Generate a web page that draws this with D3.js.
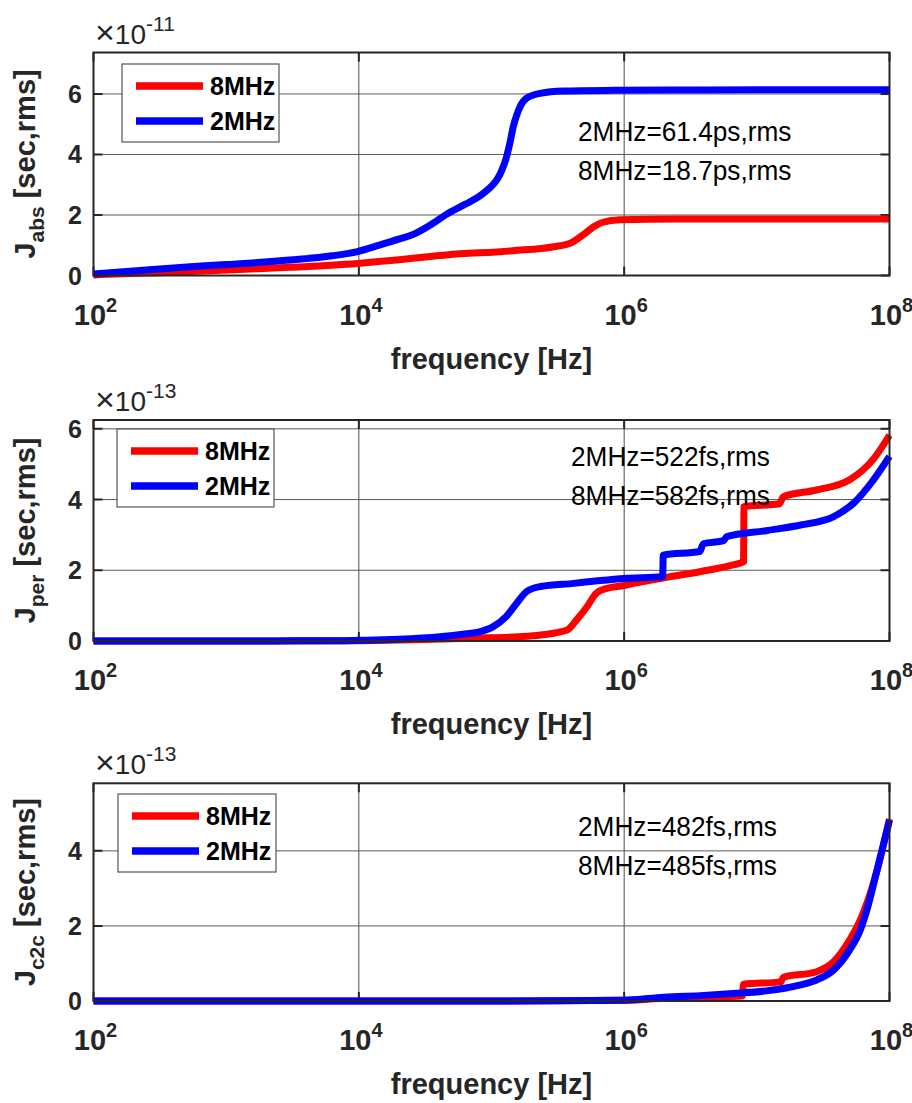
<!DOCTYPE html>
<html>
<head>
<meta charset="utf-8">
<script src="https://cdn.jsdelivr.net/npm/d3@7"></script>
<style>
  body { margin: 0; background: #fff; }
  svg { display: block; }
  text { font-family: "Liberation Sans", Arial, Helvetica, sans-serif; }
</style>
</head>
<body>
<svg id="fig" width="912" height="1103"></svg>
<script>
// Frequency axis: decades shown as ticks (exponents of 10)
const decades = [2, 4, 6, 8];
const seriesNames = ["8MHz", "2MHz"];

// Integrated absolute jitter, J_abs (units of 1e-11 s); frequencies as log10(Hz)
const absF8 = [2, 2.4, 2.73, 3.1, 3.48, 3.99, 4.2, 4.66, 5.16, 5.47, 5.6, 5.69, 5.77, 5.84, 5.97, 6.4, 7, 8];
const absJ8 = [0.02, 0.08, 0.13, 0.2, 0.27, 0.40, 0.48, 0.68, 0.82, 0.95, 1.08, 1.34, 1.61, 1.76, 1.84, 1.87, 1.87, 1.87];
const absF2 = [2, 2.3, 2.73, 3.0, 3.48, 3.8, 3.99, 4.16, 4.3, 4.41, 4.55, 4.66, 4.8, 4.91, 5.0, 5.04, 5.08, 5.114, 5.14, 5.164, 5.19, 5.215, 5.265, 5.365, 5.54, 5.92, 6.5, 7.3, 8];
const absJ2 = [0.05, 0.15, 0.29, 0.36, 0.51, 0.65, 0.79, 1.01, 1.2, 1.36, 1.7, 2.02, 2.35, 2.62, 2.95, 3.16, 3.5, 3.93, 4.4, 4.92, 5.3, 5.58, 5.86, 6.02, 6.10, 6.12, 6.13, 6.14, 6.14];
const absYTicks = [0, 2, 4, 6];
const absNotes = ["2MHz=61.4ps,rms", "8MHz=18.7ps,rms"];

// Integrated period jitter, J_per (units of 1e-13 s)
const perF8 = [2, 3.5, 4.0, 4.5, 4.86, 5.2, 5.37, 5.57, 5.64, 5.72, 5.79, 5.87, 6.0, 6.07, 6.32, 6.57, 6.82, 6.9, 6.903, 7.17, 7.2, 7.45, 7.7, 7.88, 8];
const perJ8 = [0, 0, 0.01, 0.04, 0.08, 0.12, 0.17, 0.31, 0.59, 0.97, 1.35, 1.49, 1.57, 1.63, 1.8, 1.96, 2.15, 2.24, 3.8, 3.88, 4.08, 4.27, 4.56, 5.15, 5.82];
const perF2 = [2, 3, 3.5, 3.86, 4.0, 4.3, 4.61, 4.8, 4.91, 5.01, 5.11, 5.19, 5.265, 5.37, 5.62, 5.82, 6.0, 6.29, 6.295, 6.57, 6.597, 6.75, 6.773, 7.07, 7.33, 7.58, 7.73, 7.88, 8];
const perJ2 = [0, 0, 0.005, 0.01, 0.02, 0.05, 0.12, 0.2, 0.26, 0.4, 0.69, 1.07, 1.4, 1.54, 1.63, 1.71, 1.77, 1.82, 2.43, 2.53, 2.75, 2.84, 2.95, 3.12, 3.28, 3.52, 3.9, 4.56, 5.22];
const perYTicks = [0, 2, 4, 6];
const perNotes = ["2MHz=522fs,rms", "8MHz=582fs,rms"];

// Integrated cycle-to-cycle jitter, J_c2c (units of 1e-13 s)
const c2cF8 = [2, 5, 5.5, 6, 6.3, 6.6, 6.89, 6.9, 7.18, 7.2, 7.45, 7.58, 7.7, 7.78, 7.9, 8];
const c2cJ8 = [0, 0, 0.005, 0.02, 0.07, 0.1, 0.13, 0.45, 0.51, 0.63, 0.78, 1.05, 1.63, 2.16, 3.4, 4.85];
const c2cF2 = [2, 5, 5.5, 6, 6.3, 6.6, 6.82, 7.07, 7.33, 7.45, 7.58, 7.7, 7.78, 7.83, 7.9, 7.95, 8];
const c2cJ2 = [0, 0, 0.005, 0.02, 0.1, 0.15, 0.2, 0.27, 0.43, 0.56, 0.83, 1.36, 1.89, 2.43, 3.4, 4.11, 4.82];
const c2cYTicks = [0, 2, 4];
const c2cNotes = ["2MHz=482fs,rms", "8MHz=485fs,rms"];

// Panel layout (pixels) and series styling
const colors = ["#ff0000", "#0000ff"];
const panels = [
  { top: 52.5, bottom: 275.5, ymax: 7.37, ticks: absYTicks, exp: "-11", sub: "abs",
    s8: [absF8, absJ8], s2: [absF2, absJ2], notes: absNotes,
    leg: { x: 122, y: 64, w: 157, h: 78 }, note: { x: 578, y: 140.7, dy: 39.3 } },
  { top: 420, bottom: 641, ymax: 6.25, ticks: perYTicks, exp: "-13", sub: "per",
    s8: [perF8, perJ8], s2: [perF2, perJ2], notes: perNotes,
    leg: { x: 117, y: 429, w: 157, h: 78 }, note: { x: 571, y: 466, dy: 39 } },
  { top: 783.3, bottom: 1001, ymax: 5.8, ticks: c2cYTicks, exp: "-13", sub: "c2c",
    s8: [c2cF8, c2cJ8], s2: [c2cF2, c2cJ2], notes: c2cNotes,
    leg: { x: 118, y: 794, w: 158, h: 78 }, note: { x: 578, y: 836, dy: 39 } }
];

const LEFT = 93.5, RIGHT = 889.5, TICK = 9;
const ink = "#262626";
const svg = d3.select("#fig");
svg.append("rect").attr("width", 912).attr("height", 1103).attr("fill", "#fff");

const x = d3.scaleLog().domain([1e2, 1e8]).range([LEFT, RIGHT]);

panels.forEach(p => {
  const y = d3.scaleLinear().domain([0, p.ymax]).range([p.bottom, p.top]);
  const g = svg.append("g");

  // grid lines
  const xt = decades.map(d => Math.pow(10, d));
  g.selectAll(null).data(xt).join("line")
    .attr("x1", d => x(d)).attr("x2", d => x(d))
    .attr("y1", p.top).attr("y2", p.bottom)
    .attr("stroke", "#4d4d4d").attr("stroke-width", 1);
  g.selectAll(null).data(p.ticks).join("line")
    .attr("x1", LEFT).attr("x2", RIGHT)
    .attr("y1", d => y(d)).attr("y2", d => y(d))
    .attr("stroke", "#5a5a5a").attr("stroke-width", 1);

  // inward tick marks on all four sides
  g.selectAll(null).data(xt).join("path")
    .attr("d", d => `M${x(d)},${p.bottom}v${-TICK}M${x(d)},${p.top}v${TICK}`)
    .attr("stroke", ink).attr("stroke-width", 2);
  g.selectAll(null).data(p.ticks).join("path")
    .attr("d", d => `M${LEFT},${y(d)}h${TICK}M${RIGHT},${y(d)}h${-TICK}`)
    .attr("stroke", ink).attr("stroke-width", 2);

  // jitter curves
  const line = d3.line()
    .x(d => x(Math.pow(10, d[0])))
    .y(d => y(d[1]))
    .curve(d3.curveMonotoneX);
  [p.s8, p.s2].forEach((s, i) => {
    const pts = s[0].map((f, k) => [f, s[1][k]]);
    g.append("path").datum(pts)
      .attr("d", line)
      .attr("fill", "none")
      .attr("stroke", colors[i])
      .attr("stroke-width", 7)
      .attr("stroke-linejoin", "round");
  });

  // axes box
  g.append("rect")
    .attr("x", LEFT).attr("y", p.top)
    .attr("width", RIGHT - LEFT).attr("height", p.bottom - p.top)
    .attr("fill", "none").attr("stroke", ink).attr("stroke-width", 2);

  // y tick labels
  g.selectAll(null).data(p.ticks).join("text")
    .attr("x", 82).attr("y", d => y(d) + 9)
    .attr("text-anchor", "end")
    .attr("font-size", 25).attr("font-weight", "bold").attr("fill", ink)
    .text(d => d);

  // x tick labels 10^n
  const xl = g.selectAll(null).data(decades).join("text")
    .attr("x", d => x(Math.pow(10, d)) + 2).attr("y", p.bottom + 49)
    .attr("text-anchor", "middle")
    .attr("font-weight", "bold").attr("fill", ink);
  xl.append("tspan").attr("font-size", 29).text("10");
  xl.append("tspan").attr("font-size", 20).attr("dy", -13).text(d => d);

  // x axis label
  g.append("text")
    .attr("x", (LEFT + RIGHT) / 2).attr("y", p.bottom + 93)
    .attr("text-anchor", "middle")
    .attr("font-size", 29).attr("font-weight", "bold").attr("fill", ink)
    .text("frequency [Hz]");

  // y axis label with subscript
  const yl = g.append("text")
    .attr("transform", `translate(35,${(p.top + p.bottom) / 2}) rotate(-90)`)
    .attr("text-anchor", "middle")
    .attr("font-weight", "bold").attr("fill", ink);
  yl.append("tspan").attr("font-size", 29).text("J");
  yl.append("tspan").attr("font-size", 21).attr("dy", 9).text(p.sub);
  yl.append("tspan").attr("font-size", 29).attr("dy", -9).text(" [sec,rms]");

  // exponent multiplier
  const ex = g.append("text")
    .attr("x", 95).attr("y", p.top - 9)
    .attr("fill", ink);
  ex.append("tspan").attr("font-size", 34).text("\u00d7");
  ex.append("tspan").attr("font-size", 28).text("10");
  ex.append("tspan").attr("font-size", 21).attr("dy", -13).text(p.exp);

  // legend
  const L = p.leg;
  const lg = g.append("g");
  lg.append("rect")
    .attr("x", L.x).attr("y", L.y).attr("width", L.w).attr("height", L.h)
    .attr("fill", "#fff").attr("stroke", "#555").attr("stroke-width", 1.2);
  seriesNames.forEach((name, i) => {
    const ly = L.y + 22 + i * 35;
    lg.append("line")
      .attr("x1", L.x + 14).attr("x2", L.x + 81)
      .attr("y1", ly).attr("y2", ly)
      .attr("stroke", colors[i]).attr("stroke-width", 7.5);
    lg.append("text")
      .attr("x", L.x + 88).attr("y", ly + 9)
      .attr("font-size", 25).attr("font-weight", "bold").attr("fill", "#000")
      .text(name);
  });

  // rms annotations
  p.notes.forEach((t, i) => {
    g.append("text")
      .attr("transform", `translate(${p.note.x},${p.note.y + i * p.note.dy}) scale(0.92,1)`)
      .attr("font-size", 28.5).attr("fill", "#000")
      .text(t);
  });
});
</script>
</body>
</html>
